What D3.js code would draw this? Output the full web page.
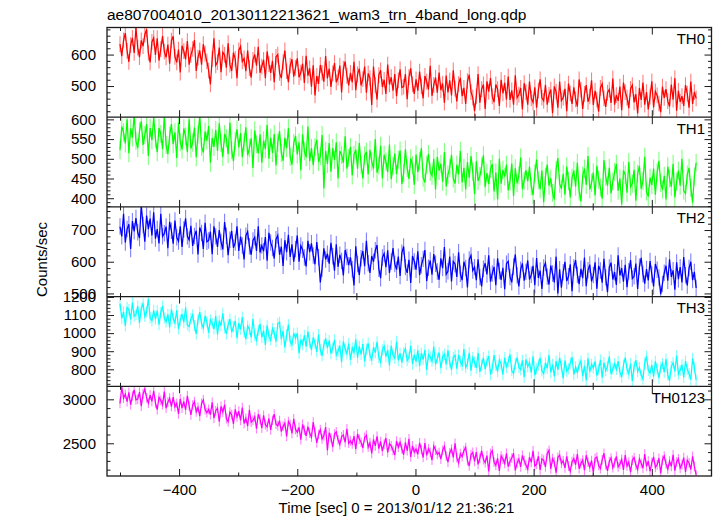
<!DOCTYPE html>
<html><head><meta charset="utf-8">
<script src="https://cdn.jsdelivr.net/npm/d3@7"></script>
<style>
body{margin:0;background:#fff}
svg{display:block}
text{font-family:"Liberation Sans",Arial,Helvetica,sans-serif;fill:#000}
</style>
</head><body>
<svg id="c" width="717" height="516"></svg>
<script>
const title = "ae807004010_20130112213621_wam3_trn_4band_long.qdp";
const xLabel = "Time [sec] 0 = 2013/01/12 21:36:21";
const yLabel = "Counts/sec";
const binStart = -500, binWidth = 3;
const xDomain = [-522, 501];
const xMajorTicks = [-400, -200, 0, 200, 400];
const xMinorTicks = [-500, -300, -100, 100, 300];
const panelNames = ["TH0", "TH1", "TH2", "TH3", "TH0123"];
const panelColors = ["#ff0000", "#00ff00", "#0000ff", "#00ffff", "#ff00ff"];
const yDomains = [[401, 686], [378, 605.5], [490, 773], [706, 1202], [2128, 3148]];
const yMajorTicks = [[500, 600], [400, 450, 500, 550, 600], [500, 600, 700], [800, 900, 1000, 1100, 1200], [2500, 3000]];
const yMinorStep = [20, 10, 20, 20, 100];
const errors = [25, 23, 26, 31, 55];

const th0 = [
633,595,645,668,612,577,630,653,605,685,
622,592,645,627,663,680,605,575,640,653,
599,652,581,617,659,609,591,632,571,644,
658,593,575,616,543,628,611,585,643,568,
598,618,646,548,590,613,568,633,603,578,
549,505,586,652,566,576,622,544,607,599,
558,636,568,548,606,586,525,613,626,578,
588,547,613,557,527,583,600,565,625,542,
562,583,525,610,570,542,580,512,593,600,
542,525,575,613,547,512,565,585,530,558,
588,528,543,571,510,596,533,556,498,566,
470,532,507,567,542,514,595,524,555,497,
540,573,512,527,565,480,555,578,532,502,
542,512,577,487,537,555,502,522,562,479,
540,525,440,562,504,457,535,550,497,520,
475,568,505,528,485,538,468,518,553,495,
498,538,458,528,556,505,475,521,485,546,
499,461,532,514,489,564,469,504,527,479,
543,487,508,447,533,480,518,470,550,492,
451,506,526,468,494,443,516,536,481,463,
420,467,538,447,490,505,427,515,482,525,
467,449,505,490,437,520,477,510,457,530,
456,486,441,534,463,473,494,426,509,481,
441,514,461,448,496,431,486,521,463,453,
504,441,472,489,414,499,482,431,514,454,
463,491,420,508,476,443,496,458,435,521,
488,427,475,503,450,467,518,440,485,457,
419,494,507,461,434,479,489,446,524,441,
471,453,498,423,511,481,463,430,491,503,
448,474,413,494,456,511,441,481,426,466,
515,432,483,470,445,417,498,462,490,452,
435,505,457,525,422,485,450,468,437,503,
476,431,514,443,481,461];

const th1 = [
522,582,567,539,600,514,577,554,612,545,
527,570,595,535,560,588,507,578,547,605,
550,517,578,563,525,610,535,512,558,588,
537,567,502,592,542,524,577,557,517,600,
526,541,579,504,562,609,531,516,569,546,
583,490,553,530,573,520,590,540,505,563,
552,512,592,522,494,545,575,529,565,504,
542,580,509,527,552,477,572,537,514,562,
490,546,525,586,500,553,515,563,483,541,
570,515,495,553,527,578,505,485,540,558,
511,542,471,562,519,504,582,494,527,484,
530,548,492,507,560,425,520,487,540,467,
527,497,542,450,520,510,490,557,475,502,
530,458,510,523,475,540,485,450,508,518,
460,523,493,475,550,465,483,533,450,510,
493,466,536,448,481,513,461,498,521,436,
464,524,476,449,501,484,434,511,466,494,
527,452,440,485,512,467,457,500,422,505,
470,487,442,517,430,460,477,510,450,437,
485,460,520,440,477,422,492,452,507,467,
411,494,444,456,481,509,428,464,436,474,
487,417,465,397,500,437,472,455,485,420,
443,488,405,476,438,458,503,423,445,471,
443,480,430,408,463,498,445,423,470,390,
455,485,432,450,414,397,472,502,437,424,
462,409,480,444,402,452,470,429,490,417,
392,457,475,434,507,422,439,465,407,482,
447,427,399,497,455,432,477,412,442,467,
487,419,450,384,470,460,414,492,429,437,
472,394,462,482,424,444,505,417,404,452,
434,475,409,465,495,439,422,457,397,480,
450,429,487,402,442,470,432,500,419,412,
460,477,427,389,455,490];

const th2 = [
711,680,751,661,703,718,640,728,696,738,
693,675,778,716,663,746,703,736,683,756,
673,703,658,751,680,690,711,643,726,698,
657,730,677,664,712,647,702,737,680,669,
713,650,681,698,623,708,691,640,723,663,
667,695,624,712,680,647,700,662,639,725,
682,621,669,697,644,661,712,634,679,651,
607,682,695,649,622,667,677,634,712,629,
651,633,678,603,691,661,643,610,671,683,
622,648,587,668,630,685,615,655,600,640,
683,600,651,638,613,585,666,630,658,620,
592,662,614,535,579,642,607,625,594,660,
617,572,655,584,622,602,557,637,615,589,
614,576,525,649,593,558,611,634,586,666,
595,565,618,600,636,653,578,548,613,626,
583,636,565,601,643,593,575,616,555,628,
648,583,565,606,533,618,601,575,633,558,
589,609,637,539,581,604,559,624,594,569,
543,611,580,646,560,570,616,538,601,593,
552,630,562,542,600,580,519,607,620,572,
583,542,608,552,522,578,595,560,620,537,
563,584,526,611,571,543,581,513,594,601,
552,535,585,623,557,522,575,595,540,568,
604,544,559,587,526,612,549,572,514,582,
596,553,528,588,563,535,616,500,576,518,
567,600,539,554,592,507,582,605,559,529,
578,548,613,523,573,591,538,558,598,515,
587,572,534,609,551,504,582,597,544,567,
527,620,557,580,537,590,520,570,605,547,
554,594,514,584,612,561,531,577,541,602,
560,522,593,575,550,498,530,565,588,540,
608,552,573,512,598,545,583,535,615,557,
525,580,600,542,568,517];

const th3 = [
1163,1082,1118,1040,1142,1130,1076,1169,1094,1103,
1150,1057,1138,1162,1093,1117,1189,1084,1069,1126,
1077,1125,1047,1113,1149,1083,1062,1104,1032,1131,
1081,1057,1126,1024,1072,1105,1060,1141,1045,1036,
1080,1101,1041,996,1074,1116,1053,1029,1095,1062,
1002,1074,1056,1023,1095,993,1068,1041,1110,1029,
996,1047,1077,1005,1035,1068,972,1056,1020,1089,
1006,967,1039,1021,976,1078,988,961,1015,1051,
977,1013,935,1043,983,962,1025,1001,953,1052,
1060,966,1011,921,990,1047,954,936,999,972,
1000,889,964,937,988,925,1009,949,907,976,
944,896,992,908,875,935,971,917,959,887,
918,963,879,900,930,840,954,912,885,942,
852,918,894,966,864,927,882,939,843,912,
943,877,853,922,892,952,865,841,907,928,
870,906,822,930,879,861,954,849,888,837,
893,914,848,866,929,830,881,842,905,818,
890,854,908,797,881,869,845,926,827,860,
893,806,869,884,827,905,839,797,866,878,
804,879,843,822,912,810,831,891,792,864,
840,807,891,786,825,864,801,846,873,771,
806,878,821,788,851,830,770,863,809,842,
882,792,777,831,864,810,798,849,756,855,
815,836,782,872,767,803,824,863,791,776,
836,806,878,782,827,761,845,797,863,815,
750,849,789,804,834,867,771,813,780,825,
846,762,819,738,861,786,828,807,843,765,
798,852,753,837,792,816,870,774,801,831,
799,844,784,757,823,865,802,775,832,736,
815,851,788,809,767,746,836,872,794,779,
823,760,844,802,751,811,832,784,856,769,
737,815,836,788,875,773,794,824,755,845,
800,776,743,860,809,740];

const th0123 = [
2953,3138,3013,3058,2973,3078,2938,3038,3108,2993,
3002,3082,2922,3062,3117,3017,2957,3047,2977,3097,
2958,2883,3023,2988,2938,3088,2898,2968,3013,2918,
3025,2915,2955,2835,3005,2900,2975,2880,3040,2925,
2823,2933,2973,2858,2908,2808,2953,2993,2883,2848,
2885,2825,2965,2785,2870,2900,2745,2920,2855,2940,
2780,2745,2855,2825,2720,2885,2800,2865,2760,2905,
2725,2785,2695,2880,2740,2760,2800,2665,2830,2775,
2672,2817,2712,2687,2782,2652,2762,2832,2717,2697,
2758,2633,2693,2728,2578,2748,2713,2613,2778,2658,
2625,2680,2540,2715,2650,2585,2690,2615,2570,2740,
2625,2505,2600,2655,2550,2585,2685,2420,2620,2565,
2455,2605,2630,2540,2485,2575,2595,2510,2665,2500,
2527,2492,2582,2432,2607,2547,2512,2447,2567,2592,
2455,2505,2385,2545,2470,2580,2440,2520,2410,2490,
2560,2395,2495,2470,2420,2365,2525,2455,2510,2435,
2370,2510,2415,2550,2345,2470,2400,2435,2375,2505,
2428,2338,2503,2363,2438,2398,2308,2468,2423,2373,
2395,2320,2420,2465,2355,2285,2390,2435,2340,2500,
2337,2277,2382,2347,2417,2452,2302,2242,2372,2397,
2295,2400,2260,2330,2415,2315,2280,2360,2180,2385,
2415,2285,2250,2330,2185,2355,2320,2270,2385,2235,
2292,2332,2387,2192,2277,2322,2232,2362,2302,2252,
2208,2343,2283,2413,2243,2263,2353,2198,2323,2308,
2230,2385,2420,2210,2325,2285,2165,2340,2365,2270,
2301,2221,2351,2241,2181,2291,2326,2256,2376,2211,
2269,2309,2194,2364,2284,2229,2304,2169,2329,2344,
2247,2212,2312,2387,2257,2187,2292,2332,2222,2277,
2352,2232,2262,2317,2197,2367,2242,2287,2172,2307,
2337,2252,2202,2322,2272,2217,2377,2237,2297,2182,
2280,2345,2225,2255,2330,2160,2310,2355,2265,2205,
2298,2238,2368,2188,2288,2323,2218,2258,2338,2173,
2307,2277,2202,2352,2237,2142];

const series = [th0, th1, th2, th3, th0123];

// ---- layout ----
const L = 107, R = 711.5, T = 27.5, B = 476;
const nP = series.length;
const pH = (B - T) / nP;
const frameColor = "#1a1a1a";
const svg = d3.select("#c");

const x = d3.scaleLinear().domain(xDomain).range([L, R]);

svg.append("text").attr("x", 107).attr("y", 20)
  .style("font-size", "15.5px").text(title);

const styleAxis = sel => {
  sel.select(".domain").remove();
  sel.selectAll("line").attr("stroke", frameColor).attr("stroke-width", 1);
  sel.selectAll("text").style("font-size", "15px")
    .style("font-family", '"Liberation Sans",Arial,Helvetica,sans-serif').attr("fill", "#000");
  sel.attr("font-family", null).attr("font-size", null);
};

series.forEach((vals, p) => {
  const y0 = T + p * pH, y1 = y0 + pH;
  const y = d3.scaleLinear().domain(yDomains[p]).range([y1, y0]);
  const pts = vals.map((v, i) => ({t: binStart + i * binWidth, v}));
  const err = errors[p];
  const col = panelColors[p];

  const clipId = "clip" + p;
  svg.append("clipPath").attr("id", clipId).append("rect")
    .attr("x", L).attr("y", y0).attr("width", R - L).attr("height", pH);
  const g = svg.append("g").attr("clip-path", `url(#${clipId})`);

  g.append("path")
    .attr("d", pts.map(d => `M${x(d.t)},${y(d.v - err)}V${y(d.v + err)}`).join(""))
    .attr("stroke", col).attr("stroke-opacity", 0.5).attr("stroke-width", 1.1).attr("fill", "none");
  g.append("path")
    .datum(pts)
    .attr("d", d3.line().x(d => x(d.t)).y(d => y(d.v)))
    .attr("stroke", col).attr("stroke-width", 1.25).attr("fill", "none");

  const [lo, hi] = yDomains[p];
  const st = yMinorStep[p];
  const minors = d3.range(Math.ceil(lo / st) * st, hi + 1e-9, st).filter(v => !yMajorTicks[p].includes(v));
  svg.append("g").attr("transform", `translate(${L},0)`)
    .call(d3.axisLeft(y).tickValues(yMajorTicks[p]).tickSize(-7).tickPadding(11).tickFormat(d3.format("d")))
    .call(styleAxis);
  svg.append("g").attr("transform", `translate(${L},0)`)
    .call(d3.axisLeft(y).tickValues(minors).tickSize(-3.5).tickFormat(""))
    .call(styleAxis);
  svg.append("g").attr("transform", `translate(${R},0)`)
    .call(d3.axisRight(y).tickValues(yMajorTicks[p]).tickSize(-7).tickFormat(""))
    .call(styleAxis);
  svg.append("g").attr("transform", `translate(${R},0)`)
    .call(d3.axisRight(y).tickValues(minors).tickSize(-3.5).tickFormat(""))
    .call(styleAxis);

  const last = p === nP - 1;
  svg.append("g").attr("transform", `translate(0,${y0})`)
    .call(d3.axisTop(x).tickValues(xMajorTicks).tickSize(-7).tickFormat(""))
    .call(styleAxis);
  svg.append("g").attr("transform", `translate(0,${y0})`)
    .call(d3.axisTop(x).tickValues(xMinorTicks).tickSize(-3.5).tickFormat(""))
    .call(styleAxis);
  svg.append("g").attr("transform", `translate(0,${y1})`)
    .call(d3.axisBottom(x).tickValues(xMajorTicks).tickSize(-7).tickPadding(8)
      .tickFormat(last ? d3.format("d") : ""))
    .call(styleAxis);
  svg.append("g").attr("transform", `translate(0,${y1})`)
    .call(d3.axisBottom(x).tickValues(xMinorTicks).tickSize(-3.5).tickFormat(""))
    .call(styleAxis);

  svg.append("text").attr("x", 705).attr("y", y0 + 16.5)
    .attr("text-anchor", "end").style("font-size", "15px").text(panelNames[p]);

  if (p > 0) {
    svg.append("line").attr("x1", L).attr("x2", R).attr("y1", y0).attr("y2", y0)
      .attr("stroke", frameColor).attr("stroke-width", 1.3);
  }
});

svg.append("rect").attr("x", L).attr("y", T).attr("width", R - L).attr("height", B - T)
  .attr("fill", "none").attr("stroke", frameColor).attr("stroke-width", 1.3);

svg.append("text").attr("x", 396.5).attr("y", 512.5).attr("text-anchor", "middle")
  .style("font-size", "15px").text(xLabel);

svg.append("text").attr("transform", "translate(47,259.5) rotate(-90)")
  .attr("text-anchor", "middle").style("font-size", "15px").text(yLabel);
</script>
</body></html>
